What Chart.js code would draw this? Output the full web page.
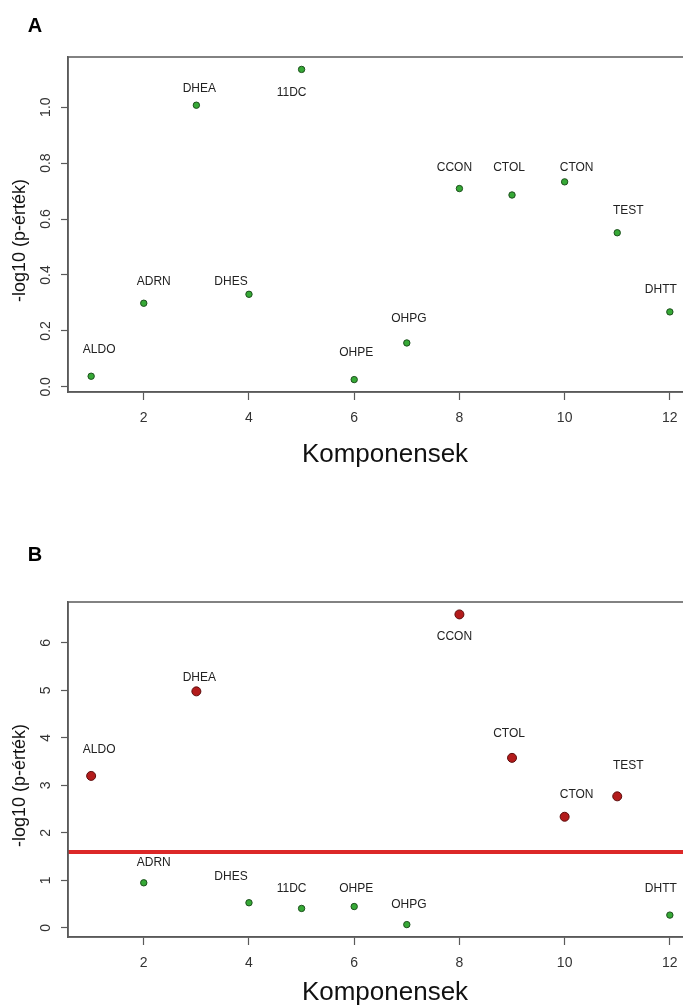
<!DOCTYPE html>
<html>
<head>
<meta charset="utf-8">
<script src="https://cdn.jsdelivr.net/npm/chart.js@4.4.1/dist/chart.umd.min.js"></script>
<style>
  html, body { margin: 0; padding: 0; background: #fff; width: 683px; height: 1007px; overflow: hidden; }
  .panel { position: absolute; left: 0; }
  #wrapA { top: 0; }
  #wrapB { top: 503px; }
</style>
</head>
<body>
<div class="panel" id="wrapA"><canvas id="chartA" width="720" height="503"></canvas></div>
<div class="panel" id="wrapB"><canvas id="chartB" width="720" height="504"></canvas></div>
<script>
// Components on the x axis (1..12) and their -log10(p) in the two analyses.
const components = ["ALDO", "ADRN", "DHEA", "DHES", "11DC", "OHPE", "OHPG", "CCON", "CTOL", "CTON", "TEST", "DHTT"];
const componentIndex = [1, 2, 3, 4, 5, 6, 7, 8, 9, 10, 11, 12];
const logPA = [0.038, 0.299, 1.007, 0.331, 1.135, 0.026, 0.157, 0.709, 0.686, 0.733, 0.551, 0.268];
const logPB = [3.20, 0.95, 4.98, 0.53, 0.41, 0.45, 0.07, 6.60, 3.58, 2.34, 2.77, 0.27];
const thresholdB = 1.6; // significance line in panel B

const xTicks = [2, 4, 6, 8, 10, 12];
const yTicksA = [0, 0.2, 0.4, 0.6, 0.8, 1.0];
const yTicksB = [0, 1, 2, 3, 4, 5, 6];
const xTitle = "Komponensek";
const yTitle = "-log10 (p-érték)";

// Label nudges in pixels, hand placed like the original (x shared by both panels).
const labelDx = [8, 10, 3, -18, -10, 2, 2, -5, -3, 12, 11, -9];
const labelDyA = [-27, -22, -17, -13, 23, -27, -24, -21, -27, -14, -22, -22];
const labelDyB = [-26, -20, -14, -26, -20, -18, -20, 22, -24, -22, -31, -26];

const FONT = "'Liberation Sans', Arial, sans-serif";
const AXIS = "#5a5a5a";
const GREEN = "#36a936", GREEN_EDGE = "#1d4f1d";
const RED = "#b31b1b", RED_EDGE = "#5c0c0c";

// R-style extras the scales don't draw: full box, rotated y tick labels,
// point labels, titles and the panel letter.
const rDecor = {
  id: "rDecor",
  afterDraw(chart, _args, opts) {
    const { ctx, chartArea: a, scales: { x, y } } = chart;
    ctx.save();
    ctx.strokeStyle = AXIS;
    ctx.lineWidth = 1.5;
    ctx.strokeRect(a.left, a.top, a.right - a.left, a.bottom - a.top);

    ctx.fillStyle = "#333";
    ctx.textAlign = "center";
    ctx.textBaseline = "middle";
    ctx.font = "14px " + FONT;
    for (const v of opts.yTicks) {
      ctx.save();
      ctx.translate(a.left - 22, y.getPixelForValue(v));
      ctx.rotate(-Math.PI / 2);
      ctx.fillText(opts.yFormat(v), 0, 0);
      ctx.restore();
    }

    ctx.fillStyle = "#222";
    ctx.font = "12px " + FONT;
    opts.values.forEach((v, i) => {
      const px = x.getPixelForValue(componentIndex[i]) + labelDx[i];
      const py = y.getPixelForValue(v) + opts.labelDy[i];
      ctx.fillText(components[i], px, py);
    });

    ctx.fillStyle = "#111";
    ctx.font = "26px " + FONT;
    ctx.fillText(xTitle, 385, opts.xTitleY);

    // the y title sits a little below the middle of the box in the original
    ctx.font = "18px " + FONT;
    ctx.save();
    ctx.translate(20, (a.top + a.bottom) / 2 + 16);
    ctx.rotate(-Math.PI / 2);
    ctx.fillText(yTitle, 0, 0);
    ctx.restore();

    ctx.font = "bold 20px " + FONT;
    ctx.fillStyle = "#000";
    ctx.fillText(opts.letter, 35, opts.letterY);
    ctx.restore();
  },
};

function makePanel(canvasId, values, yTicks, box, extra) {
  const isSig = (v) => extra.threshold !== undefined && v > extra.threshold;
  const span = Math.max(...values) - Math.min(...values);
  const datasets = [{
    type: "scatter",
    data: values.map((v, i) => ({ x: componentIndex[i], y: v })),
    backgroundColor: values.map((v) => (isSig(v) ? RED : GREEN)),
    borderColor: values.map((v) => (isSig(v) ? RED_EDGE : GREEN_EDGE)),
    borderWidth: 1,
    pointRadius: values.map((v) => (isSig(v) ? 4.5 : 3.2)),
    order: 1,
  }];
  if (extra.threshold !== undefined) {
    datasets.push({
      type: "line",
      data: [{ x: 0.56, y: extra.threshold }, { x: 12.44, y: extra.threshold }],
      borderColor: "#dc2828",
      borderWidth: 4,
      pointRadius: 0,
      order: 2,
    });
  }
  const canvas = document.getElementById(canvasId);
  return new Chart(canvas, {
    type: "scatter",
    data: { datasets },
    plugins: [rDecor],
    options: {
      responsive: false,
      animation: false,
      layout: { padding: { top: box.top, right: 27, left: 0, bottom: 0 } },
      plugins: {
        legend: { display: false },
        tooltip: { enabled: false },
        rDecor: {
          yTicks, values,
          labelDy: extra.labelDy,
          yFormat: extra.yFormat,
          letter: extra.letter,
          letterY: box.letterY,
          xTitleY: box.xTitleY,
        },
      },
      scales: {
        x: {
          type: "linear",
          min: 0.56, // R pads the range by 4% each side
          max: 12.44,
          afterBuildTicks: (s) => { s.ticks = xTicks.map((v) => ({ value: v })); },
          afterFit: (s) => { s.height = canvas.height - box.bottom; },
          border: { display: true, color: AXIS, width: 1.5 },
          grid: { drawOnChartArea: false, drawTicks: true, tickLength: 8, color: AXIS, tickWidth: 1.2 },
          ticks: { color: "#333", font: { family: FONT, size: 14 }, padding: 10, maxRotation: 0 },
        },
        y: {
          type: "linear",
          min: Math.min(...values) - 0.04 * span,
          max: Math.max(...values) + 0.04 * span,
          afterBuildTicks: (s) => { s.ticks = yTicks.map((v) => ({ value: v })); },
          afterFit: (s) => { s.width = 68; },
          border: { display: true, color: AXIS, width: 1.5 },
          grid: { drawOnChartArea: false, drawTicks: true, tickLength: 7, color: AXIS, tickWidth: 1.2 },
          ticks: { display: false },
        },
      },
    },
  });
}

makePanel("chartA", logPA, yTicksA, { top: 57, bottom: 392, letterY: 26, xTitleY: 455 },
  { letter: "A", labelDy: labelDyA, yFormat: (v) => v.toFixed(1) });
makePanel("chartB", logPB, yTicksB, { top: 99, bottom: 434, letterY: 52, xTitleY: 490 },
  { letter: "B", labelDy: labelDyB, yFormat: (v) => String(v), threshold: thresholdB });
</script>
</body>
</html>
